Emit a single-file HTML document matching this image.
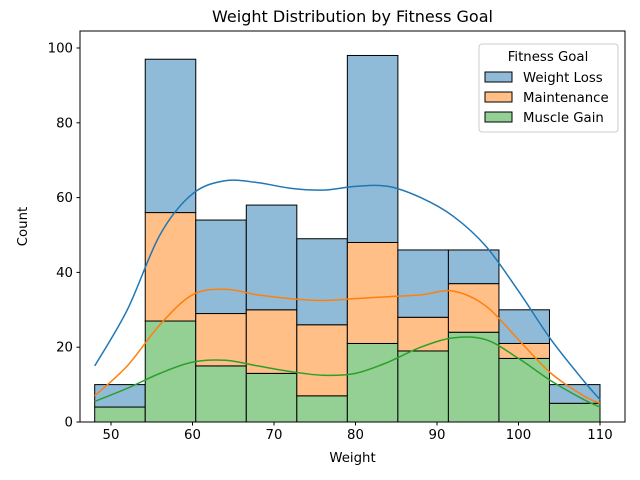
<!DOCTYPE html>
<html><head><meta charset="utf-8"><style>
body{margin:0;background:#fff;}
svg{display:block;font-family:"DejaVu Sans","Liberation Sans",sans-serif;}
</style></head><body>
<svg id="chart" width="640" height="480" viewBox="0 0 640 480" xmlns="http://www.w3.org/2000/svg">
<rect width="640" height="480" fill="#fff"/>
<g id="plot"></g>
</svg>
<script>
const binEdges = [48, 54.2, 60.4, 66.6, 72.8, 79, 85.2, 91.4, 97.6, 103.8, 110];
const muscleGain = [4, 27, 15, 13, 7, 21, 19, 24, 17, 5];
const maintenance = [0, 29, 14, 17, 19, 27, 9, 13, 4, 0];
const weightLoss = [6, 41, 25, 28, 23, 50, 18, 9, 9, 5];
const kdeX = [48, 52, 56, 60, 64, 68, 72, 76, 80, 84, 88, 92, 96, 100, 104, 108, 110];
const kdeTotal = [15, 30, 50, 61, 64.5, 64, 62.5, 62, 63, 63, 60, 55, 47, 35, 22, 11, 6];
const kdeMaint = [7, 15, 26, 34, 35.5, 34, 33, 32.5, 33, 33.5, 34, 35, 31, 22, 13, 7, 5];
const kdeGain = [5.5, 9, 13, 16, 16.5, 15, 13.5, 12.5, 13, 16, 20, 22.5, 22, 17, 11, 6, 4];
const xTicks = [50, 60, 70, 80, 90, 100, 110];
const yTicks = [0, 20, 40, 60, 80, 100];

const L=80,R=625,T=31,B=422;
const x=v=>111+(v-50)*(489/60);
const y=v=>B-v*3.74;
const NS="http://www.w3.org/2000/svg";
const g=document.getElementById('plot');
function el(t,a,p){const e=document.createElementNS(NS,t);for(const k in a)e.setAttribute(k,a[k]);(p||g).appendChild(e);return e;}

const fills=['#94cf94','#ffbf86','#8fbbd9'];
const layers=[muscleGain,maintenance,weightLoss];
const names=['muscle-gain','maintenance','weight-loss'];
for(let i=0;i<binEdges.length-1;i++){
  let base=0;
  layers.forEach((arr,li)=>{
    const v=arr[i];
    if(v>0){
      const r=el('rect',{x:x(binEdges[i]),y:y(base+v),width:x(binEdges[i+1])-x(binEdges[i]),height:y(base)-y(base+v),fill:fills[li],stroke:'#000','stroke-width':1});
      
      
    }
    base+=v;
  });
}
function smooth(xs,ys){
  const p=xs.map((v,i)=>[x(v),y(ys[i])]);
  let d='M'+p[0][0]+','+p[0][1];
  for(let i=0;i<p.length-1;i++){
    const p0=p[i-1]||p[i],p1=p[i],p2=p[i+1],p3=p[i+2]||p2;
    d+=' C'+(p1[0]+(p2[0]-p0[0])/6)+','+(p1[1]+(p2[1]-p0[1])/6)+' '+(p2[0]-(p3[0]-p1[0])/6)+','+(p2[1]-(p3[1]-p1[1])/6)+' '+p2[0]+','+p2[1];
  }
  return d;
}
[[kdeTotal,'#1f77b4','weight-loss-kde'],[kdeMaint,'#ff7f0e','maintenance-kde'],[kdeGain,'#2ca02c','muscle-gain-kde']].forEach(([a,c,n])=>{
  const pth=el('path',{d:smooth(kdeX,a),fill:'none',stroke:c,'stroke-width':1.5});
  
  
});
const frame=el('rect',{x:L,y:T,width:R-L,height:B-T,fill:'none',stroke:'#000','stroke-width':1});


xTicks.forEach(v=>{
  el('line',{x1:x(v),x2:x(v),y1:B,y2:B+3.5,stroke:'#000'});
  const t=el('text',{x:x(v),y:B+17,'text-anchor':'middle','font-size':'13.3'});
  t.textContent=v;
  
  
});
yTicks.forEach(v=>{
  el('line',{x1:L-3.5,x2:L,y1:y(v),y2:y(v),stroke:'#000'});
  const t=el('text',{x:L-7,y:y(v)+4.5,'text-anchor':'end','font-size':'13.3'});
  t.textContent=v;
  
  
});
function txt(s,a,n){const t=el('text',a);t.textContent=s;return t;}
txt('Weight Distribution by Fitness Goal',{x:(L+R)/2,y:22,'text-anchor':'middle','font-size':'16'},'chart-title');
txt('Weight',{x:(L+R)/2,y:462,'text-anchor':'middle','font-size':'13.3'},'x-axis-title');
txt('Count',{x:27,y:(T+B)/2,'text-anchor':'middle','font-size':'13.3',transform:'rotate(-90 27 '+((T+B)/2)+')'},'y-axis-title');
const lg=el('g',{});


el('rect',{x:479,y:44,width:139,height:88,rx:3,fill:'#fff',stroke:'#ccc','fill-opacity':0.8},lg);
const tt=el('text',{x:548,y:61,'text-anchor':'middle','font-size':'13.3'},lg);tt.textContent='Fitness Goal';
const labs=['Weight Loss','Maintenance','Muscle Gain'];const lf=['#8fbbd9','#ffbf86','#94cf94'];
labs.forEach((s,i)=>{
  const yy=77+i*20;
  el('rect',{x:485,y:yy-5,width:27,height:10,fill:lf[i],stroke:'#000'},lg);
  const t=el('text',{x:523,y:yy+5,'font-size':'13.3'},lg);t.textContent=s;
  
  
});
</script>
</body></html>
